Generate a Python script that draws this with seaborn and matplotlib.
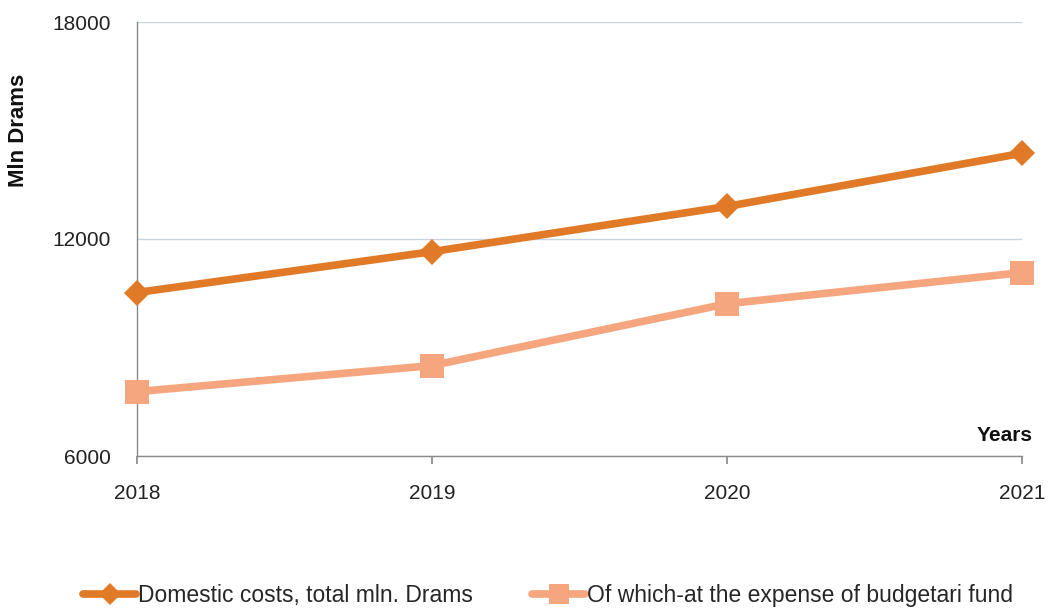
import matplotlib
matplotlib.use("Agg")
import matplotlib.pyplot as plt
import seaborn as sns
import pandas as pd
from matplotlib.lines import Line2D

years = [2018, 2019, 2020, 2021]
domestic = [10520, 11650, 12900, 14370]
budget = [7780, 8500, 10210, 11070]
series_names = ["Domestic costs, total mln. Drams", "Of which-at the expense of budgetari fund"]
colors = ["#E07A27", "#F6A67E"]
markers = ["D", "s"]
yticks = [6000, 12000, 18000]

sns.set_theme(style="white")
plt.rcParams['font.family'] = ['Liberation Sans', 'DejaVu Sans']

fig = plt.figure(figsize=(10.5, 6.09), dpi=100)
ax = fig.add_axes([137/1050, 1-456/609, (1022-137)/1050, (456-22)/609])

df = pd.DataFrame({
    "Year": years * 2,
    "Value": domestic + budget,
    "Series": [series_names[0]] * 4 + [series_names[1]] * 4,
})

msizes = [13, 17]
for i, name in enumerate(series_names):
    sub = df[df["Series"] == name]
    sns.lineplot(data=sub, x="Year", y="Value", ax=ax, color=colors[i], linewidth=5.5,
                 marker=markers[i], markersize=msizes[i], markeredgewidth=0,
                 markeredgecolor=colors[i], clip_on=False, zorder=3 + i, legend=False)

ax.set_xlim(2018, 2021)
ax.set_ylim(6000, 18000)
ax.set_xticks(years)
ax.set_xticklabels([str(y) for y in years])
ax.set_yticks(yticks)
ax.set_yticklabels([str(v) for v in yticks])
ax.yaxis.grid(True, color="#C9D2DF", linewidth=1.0)
ax.xaxis.grid(False)
for s in ["top", "right"]:
    ax.spines[s].set_visible(False)
for s in ["left", "bottom"]:
    ax.spines[s].set_color("#8A8A8A")
    ax.spines[s].set_linewidth(1.0)
ax.tick_params(axis="x", which="major", length=6, color="#8A8A8A", bottom=True, labelsize=15,
               labelcolor="#222222", pad=14)
ax.tick_params(axis="y", length=0, labelsize=15, labelcolor="#222222", pad=19)

ax.set_ylabel("Mln Drams", fontsize=16, fontweight="bold", color="#111111")
ax.yaxis.set_label_coords(-0.122, 0.751)
ax.set_xlabel("Years", fontsize=15, fontweight="bold", color="#111111")
ax.xaxis.set_label_coords(1.012, 0.025)
ax.xaxis.label.set_horizontalalignment("right")
ax.xaxis.label.set_verticalalignment("bottom")

handles = [Line2D([0], [0], color=colors[i], linewidth=5.5, marker=markers[i],
                  markersize=msizes[i] - 2, markeredgewidth=0) for i in range(2)]
fig.legend(handles, series_names, loc="lower center", bbox_to_anchor=(0.522, -0.03), ncol=2,
           frameon=False, fontsize=16.5, handlelength=2.3, handletextpad=0.08, columnspacing=2.6)

fig.savefig("out.png", dpi=100, facecolor="white")
